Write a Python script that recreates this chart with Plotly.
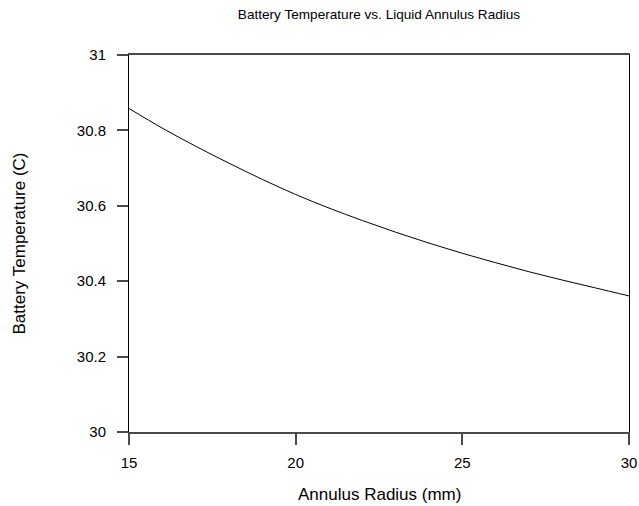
import plotly.graph_objects as go

radius_mm = [15, 16, 17, 18, 19, 20, 21, 22, 23, 24, 25, 26, 27, 28, 29, 30]
battery_temp_c = [30.858, 30.806, 30.758, 30.713, 30.670, 30.630, 30.594, 30.561,
                  30.530, 30.501, 30.474, 30.449, 30.425, 30.403, 30.382, 30.361]

x_ticks = [15, 20, 25, 30]
y_ticks = [30, 30.2, 30.4, 30.6, 30.8, 31]
y_tick_labels = ["30", "30.2", "30.4", "30.6", "30.8", "31"]

font_family = "Liberation Sans, Arial, sans-serif"

W, H = 639, 506
L, R, T, B = 129, 10, 55, 74

fig = go.Figure()
fig.add_trace(go.Scatter(x=radius_mm, y=battery_temp_c, mode="lines",
                         line=dict(color="black", width=1, shape="spline", smoothing=1.0),
                         showlegend=False, hoverinfo="skip"))

fig.update_layout(
    width=W, height=H,
    margin=dict(l=L, r=R, t=T, b=B, autoexpand=False),
    paper_bgcolor="white", plot_bgcolor="white",
    font=dict(family=font_family, color="black"),
    title=dict(text="Battery Temperature vs. Liquid Annulus Radius",
               x=0.5, xref="paper", xanchor="center",
               y=1 - 14 / H, yref="container", yanchor="middle",
               font=dict(size=13.6, color="black", family=font_family)),
    xaxis=dict(range=[15, 30], tickvals=x_ticks, ticktext=[str(v) for v in x_ticks],
               showgrid=False, zeroline=False,
               showline=True, linecolor="#4a4a4a", linewidth=2, mirror=True,
               ticks="outside", ticklen=11, tickwidth=2, tickcolor="#4a4a4a",
               ticklabelstandoff=5,
               tickfont=dict(size=15, color="black", family=font_family),
               fixedrange=True),
    yaxis=dict(range=[30, 31], tickvals=y_ticks, ticktext=y_tick_labels,
               showgrid=False, zeroline=False,
               showline=True, linecolor="black", linewidth=1, mirror=True,
               ticks="outside", ticklen=11, tickwidth=2, tickcolor="#4a4a4a",
               ticklabelstandoff=8,
               tickfont=dict(size=15, color="black", family=font_family),
               fixedrange=True),
    annotations=[
        dict(text="Annulus Radius (mm)", xref="paper", yref="paper",
             x=0.5, y=0, yshift=-62, xanchor="center", yanchor="middle",
             showarrow=False, font=dict(size=17, color="black", family=font_family)),
        dict(text="Battery Temperature (C)", xref="paper", yref="paper",
             x=0, xshift=-110, y=0.5, xanchor="center", yanchor="middle", textangle=-90,
             showarrow=False, font=dict(size=17, color="black", family=font_family)),
    ],
)

fig.write_html("out.html",
               config={"displayModeBar": False, "staticPlot": True},
               post_script="document.body.style.margin='0';document.body.style.overflow='hidden';")
